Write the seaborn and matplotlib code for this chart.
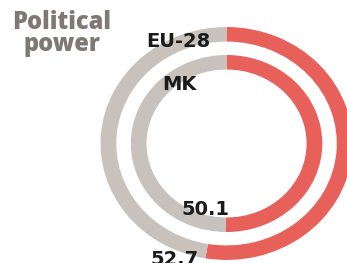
import matplotlib
matplotlib.use("Agg")
import matplotlib.pyplot as plt
import seaborn as sns

# datos
regions = ["EU-28", "MK"]
shares = [52.7, 50.1]
title = "Political\npower"

sns.set_theme(style="white")
red = "#e8605a"
grey = "#c9c1bc"

fig = plt.figure(figsize=(3.47, 2.63), dpi=100)
ax = fig.add_axes([0, 0, 1, 1])

# anillo exterior (EU-28) e interior (MK)
radii = [1.0, 0.76]
for share, r in zip(shares, radii):
    ax.pie([share, 100 - share], colors=[red, grey], radius=r,
           startangle=90, counterclock=False,
           wedgeprops=dict(width=0.125, edgecolor="none", linewidth=0))

ax.set_aspect("auto")
ax.set_xlim(-1.798, 0.956)
ax.set_ylim(-1.026, 1.232)
ax.axis("off")

lab = dict(fontsize=14, fontweight="bold", color="#1b1b1b",
           ha="center", va="baseline", family="DejaVu Sans")
ax.text(-0.385, 0.828, regions[0], **lab)
ax.text(-0.377, 0.459, regions[1], **lab)
ax.text(-0.171, -0.614, "%.1f" % shares[1], **lab)
ax.text(-0.417, -1.04, "%.1f" % shares[0], **lab)

# titulo (baseline de la ultima linea)
fig.text(62 / 347, 1 - 51 / 263, title, fontsize=17, fontweight=800,
         color="#807874", ha="center", va="baseline", family="Open Sans",
         multialignment="center", linespacing=0.85)

fig.savefig("out.png", dpi=100)
